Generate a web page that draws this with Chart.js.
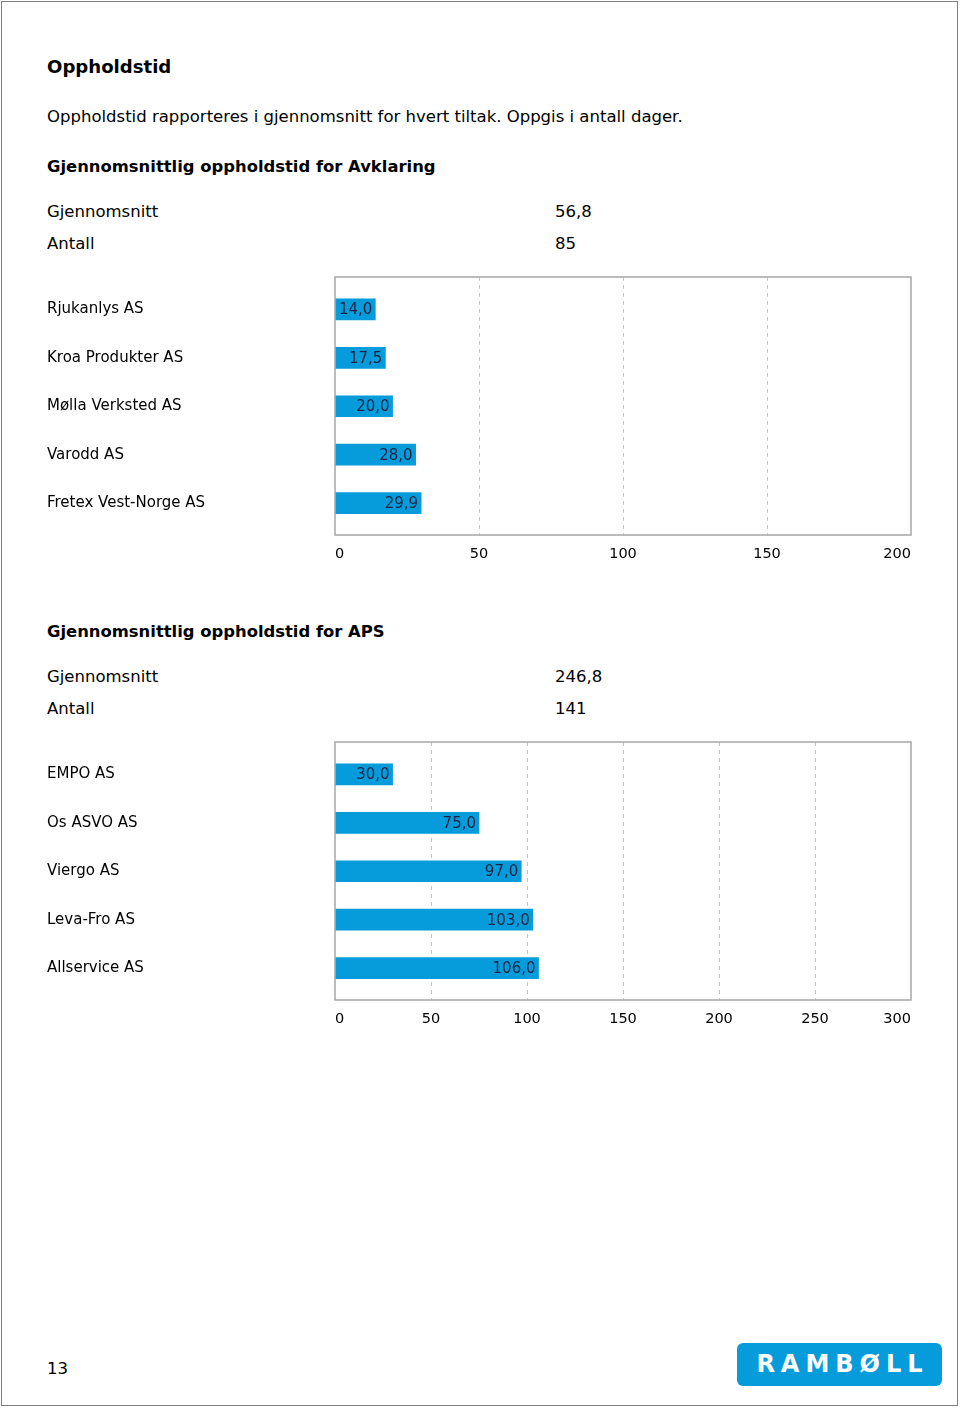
<!DOCTYPE html>
<html>
<head>
<meta charset="utf-8">
<script src="https://cdn.jsdelivr.net/npm/chart.js@4.4.1/dist/chart.umd.min.js"></script>
<style>
  html, body { margin: 0; padding: 0; background: #fff; }
  body { width: 960px; height: 1408px; position: relative; overflow: hidden; font-family: "DejaVu Sans", sans-serif; color: #000; }
  .page { position: absolute; left: 1px; top: 1px; width: 955px; height: 1403px; border: 1px solid #808080; }
  .t { position: absolute; left: 47px; white-space: nowrap; line-height: 1; }
  .h1 { font-weight: bold; font-size: 18.1px; }
  .p { font-size: 16.5px; }
  .h2 { font-weight: bold; font-size: 16.4px; }
  .v { left: 555px; }
  .chart { position: absolute; left: 47px; width: 880px; height: 310px; }
  .logo { position: absolute; left: 737px; top: 1343px; width: 205px; height: 43px; background: #069bdb; border-radius: 6px;
          color: #fff; font-family: "DejaVu Sans", sans-serif; font-weight: bold; font-size: 24px; letter-spacing: 6px; text-indent: 6px; text-align: center; line-height: 43px; }
</style>
</head>
<body>
<div class="page"></div>
<div class="t h1" style="top:58px">Oppholdstid</div>
<div class="t p" style="top:109px">Oppholdstid rapporteres i gjennomsnitt for hvert tiltak. Oppgis i antall dager.</div>
<div class="t h2" style="top:159px">Gjennomsnittlig oppholdstid for Avklaring</div>
<div class="t p" style="top:204px">Gjennomsnitt</div>
<div class="t p v" style="top:204px" id="avgA"></div>
<div class="t p" style="top:236px">Antall</div>
<div class="t p v" style="top:236px" id="cntA"></div>
<div class="chart" style="top:265px"><canvas id="chart_avklaring"></canvas></div>

<div class="t h2" style="top:624px">Gjennomsnittlig oppholdstid for APS</div>
<div class="t p" style="top:669px">Gjennomsnitt</div>
<div class="t p v" style="top:669px" id="avgB"></div>
<div class="t p" style="top:701px">Antall</div>
<div class="t p v" style="top:701px" id="cntB"></div>
<div class="chart" style="top:730px"><canvas id="chart_aps"></canvas></div>

<div class="t p" style="top:1361px">13</div>
<div class="logo">RAMBØLL</div>

<script>
// Avklaring
const avklaringNames = ['Rjukanlys AS', 'Kroa Produkter AS', 'Mølla Verksted AS', 'Varodd AS', 'Fretex Vest-Norge AS'];
const avklaringValues = [14.0, 17.5, 20.0, 28.0, 29.9];
const avklaringSummary = [56.8, 85];
const avklaringTicks = [0, 50, 100, 150, 200];

// APS
const apsNames = ['EMPO AS', 'Os ASVO AS', 'Viergo AS', 'Leva-Fro AS', 'Allservice AS'];
const apsValues = [30.0, 75.0, 97.0, 103.0, 106.0];
const apsSummary = [246.8, 141];
const apsTicks = [0, 50, 100, 150, 200, 250, 300];

const barColor = '#069bdb';

function fmt(v) {
    return v.toFixed(1).replace('.', ',');
}

document.getElementById('avgA').textContent = fmt(avklaringSummary[0]);
document.getElementById('cntA').textContent = avklaringSummary[1];
document.getElementById('avgB').textContent = fmt(apsSummary[0]);
document.getElementById('cntB').textContent = apsSummary[1];

const valueLabels = {
    id: 'valueLabels',
    afterDatasetsDraw(chart) {
        const ctx = chart.ctx;
        const meta = chart.getDatasetMeta(0);
        const values = chart.data.datasets[0].data;
        ctx.save();
        ctx.font = '15px "DejaVu Sans"';
        ctx.fillStyle = '#1c2340';
        ctx.textAlign = 'right';
        ctx.textBaseline = 'middle';
        meta.data.forEach((bar, i) => {
            ctx.fillText(fmt(values[i].x), bar.x - 3, bar.y + 1);
        });
        ctx.restore();
    }
};

const plotBox = {
    id: 'plotBox',
    afterDraw(chart) {
        const a = chart.chartArea;
        const ctx = chart.ctx;
        ctx.save();
        ctx.setLineDash([]);
        ctx.strokeStyle = '#a6a6a6';
        ctx.lineWidth = 1.5;
        ctx.strokeRect(a.left, a.top, a.right - a.left, a.bottom - a.top);
        ctx.restore();
    }
};

function createChart(id, names, values, ticks) {
    const maxTick = ticks[ticks.length - 1];
    return new Chart(id, {
        type: 'bar',
        data: {
            datasets: [{
                data: values.map((v, i) => ({ x: v, y: i })),
                backgroundColor: barColor,
                borderWidth: 0,
                barThickness: 21
            }]
        },
        options: {
            indexAxis: 'y',
            responsive: true,
            maintainAspectRatio: false,
            animation: false,
            layout: { padding: { top: 10, right: 16, left: 0, bottom: 0 } },
            plugins: { legend: { display: false }, tooltip: { enabled: false } },
            scales: {
                x: {
                    type: 'linear',
                    min: 0,
                    max: maxTick,
                    afterBuildTicks: scale => { scale.ticks = ticks.map(t => ({ value: t })); },
                    afterFit: scale => { scale.height = 40; },
                    grid: {
                        color: ctx => (ctx.tick && (ctx.tick.value === 0 || ctx.tick.value === maxTick)) ? 'rgba(0,0,0,0)' : '#c4c4c4',
                        lineWidth: 1,
                        drawTicks: false
                    },
                    border: { display: false, dash: [4, 4] },
                    ticks: {
                        align: 'inner',
                        padding: 11,
                        color: '#000',
                        font: { family: 'DejaVu Sans', size: 14.5 }
                    }
                },
                y: {
                    type: 'linear',
                    reverse: true,
                    offset: false,
                    min: -0.67,
                    max: 4.66,
                    afterBuildTicks: scale => { scale.ticks = names.map((n, i) => ({ value: i })); },
                    afterFit: scale => { scale.width = 288; },
                    grid: { display: false },
                    border: { display: false },
                    ticks: {
                        crossAlign: 'far',
                        color: '#000',
                        font: { family: 'DejaVu Sans', size: 15 },
                        callback: v => names[v]
                    }
                }
            }
        },
        plugins: [valueLabels, plotBox]
    });
}

createChart('chart_avklaring', avklaringNames, avklaringValues, avklaringTicks);
createChart('chart_aps', apsNames, apsValues, apsTicks);
</script>
</body>
</html>
